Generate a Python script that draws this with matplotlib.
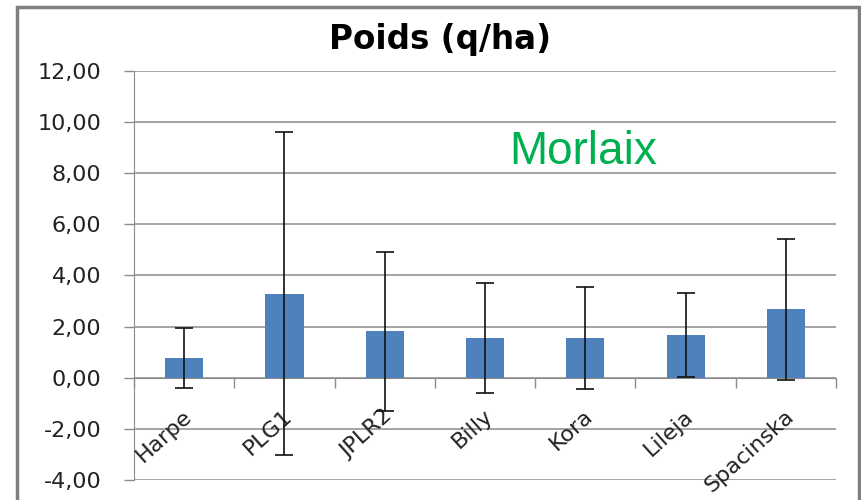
import matplotlib
matplotlib.use("Agg")
import matplotlib.pyplot as plt
from matplotlib.patches import Rectangle

varieties = ["Harpe", "PLG1", "JPLR2", "Billy", "Kora", "Lileja", "Spacinska"]
poids = [0.78, 3.29, 1.81, 1.55, 1.55, 1.66, 2.67]
ecart = [1.18, 6.32, 3.10, 2.15, 2.00, 1.65, 2.75]
yticks = [-4, -2, 0, 2, 4, 6, 8, 10, 12]

fig = plt.figure(figsize=(8.62, 5), dpi=100)
ax = fig.add_axes([0.1555, 0.04, 0.8143, 0.8186])

x = list(range(len(varieties)))
ax.bar(x, poids, width=0.38, color="#4F81BD", zorder=3)
ax.errorbar(x, poids, yerr=ecart, fmt="none", ecolor="#111111",
            elinewidth=1.2, capsize=6.8, capthick=1.2, zorder=4)

ax.set_xlim(-0.5, len(varieties) - 0.5)
ax.set_ylim(-4, 12)
ax.set_yticks(yticks)
ax.set_yticklabels([f"{v:.2f}".replace(".", ",") for v in yticks])
ax.yaxis.grid(True, color="#8C8C8C", linewidth=1.1, zorder=0)
ax.tick_params(axis="y", length=7.5, width=1, color="#8C8C8C",
               labelsize=16, pad=16, labelcolor="#222222")

# category axis sits on zero, ticks between categories
ax.spines["bottom"].set_position(("data", 0))
ax.spines["bottom"].set_color("#8C8C8C")
ax.spines["left"].set_color("#8C8C8C")
ax.spines["top"].set_visible(False)
ax.spines["right"].set_visible(False)
ax.set_xticks([i - 0.5 for i in range(len(varieties) + 1)])
ax.set_xticklabels([])
ax.tick_params(axis="x", length=7, width=1, color="#8C8C8C")

for i, name in enumerate(varieties):
    ax.text(i + 0.05, -1.4, name, rotation=42, ha="right", va="center",
            rotation_mode="anchor", fontsize=16, color="#222222")

ax.text(3.98, 8.84, "Morlaix", color="#00B050", fontsize=33,
        family="Liberation Sans", ha="center", va="center")

fig.text(440 / 862, 1 - 40 / 500, "Poids (q/ha)", ha="center", va="center",
         fontsize=23.5, fontweight="bold")

# chart frame
fig.patches.append(Rectangle((17 / 862, -0.05), (859 - 17) / 862, 1.05 - 7 / 500,
                             transform=fig.transFigure, fill=False,
                             edgecolor="#7F7F7F", linewidth=2.5))

fig.savefig("out.png", dpi=100)
